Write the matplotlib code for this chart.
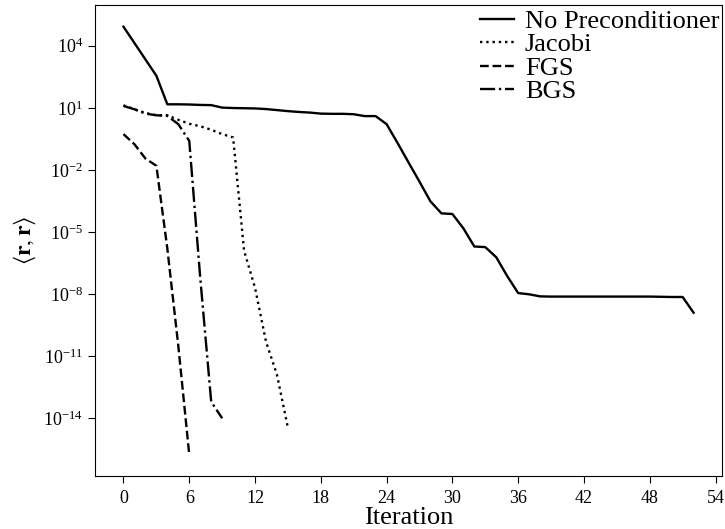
import matplotlib
matplotlib.use('Agg')
import matplotlib.pyplot as plt
import numpy as np

plt.rcParams['font.family'] = ['Liberation Serif', 'DejaVu Serif']
plt.rcParams['mathtext.fontset'] = 'stix'

# log10 of <r, r>, one value per iteration
no_prec_log10 = [4.92, 4.13, 3.34, 2.55, 1.17, 1.17, 1.16, 1.14, 1.13, 1.01,
                 0.99, 0.98, 0.97, 0.94, 0.89, 0.84, 0.80, 0.77, 0.72, 0.71,
                 0.71, 0.69, 0.60, 0.60, 0.21, -0.70, -1.64, -2.57, -3.52, -4.10,
                 -4.13, -4.82, -5.70, -5.73, -6.22, -7.13, -7.95, -8.01, -8.11, -8.12,
                 -8.12, -8.12, -8.12, -8.12, -8.12, -8.12, -8.12, -8.12, -8.12, -8.13,
                 -8.14, -8.14, -8.90]
jacobi_log10 = [1.12, 0.93, 0.75, 0.64, 0.64, 0.42, 0.23, 0.11, -0.06, -0.27,
                -0.43, -5.9, -7.7, -10.3, -11.9, -14.46]
fgs_log10 = [-0.27, -0.76, -1.45, -1.80, -5.8, -10.5, -15.76]
bgs_log10 = [1.09, 0.93, 0.72, 0.64, 0.61, 0.21, -0.60, -7.2, -13.2, -14.0]

series = [
    ('No Preconditioner', no_prec_log10, '-'),
    ('Jacobi', jacobi_log10, ':'),
    ('FGS', fgs_log10, '--'),
    ('BGS', bgs_log10, '-.'),
]

fig = plt.figure(figsize=(7.25, 5.29), dpi=100)
ax = fig.add_axes([0.131, 0.100, 0.865, 0.890])

for label, vals, ls in series:
    it = np.arange(len(vals))
    ax.semilogy(it, np.power(10.0, vals), ls, color='black', lw=1.7, label=label)

ax.set_xticks(np.arange(0, 55, 6))
ax.set_yticks([10.0**k for k in range(4, -15, -3)])
ax.yaxis.set_minor_locator(matplotlib.ticker.NullLocator())
ax.tick_params(labelsize=13, length=5)
ax.tick_params(axis='x', pad=5)

ax.set_xlabel('Iteration', fontsize=19, labelpad=0)
ax.set_ylabel(r'$\langle \mathbf{r}, \mathbf{r} \rangle$', fontsize=17)

ax.legend(loc='upper right', bbox_to_anchor=(1.0, 0.997), frameon=False,
          fontsize=19, labelspacing=0.0, handlelength=1.3, handletextpad=0.4,
          borderaxespad=0.0, borderpad=0.1)

fig.savefig('out.png', dpi=100)
